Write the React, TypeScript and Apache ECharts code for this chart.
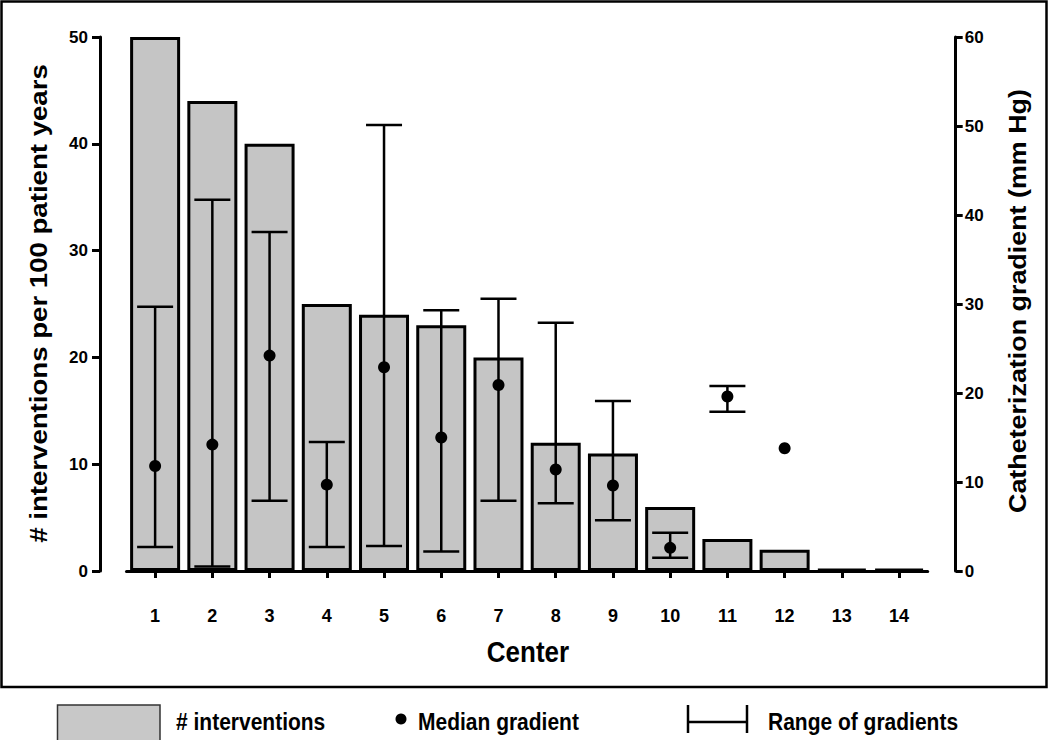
import React, { useEffect, useRef } from "react";
import * as echarts from "echarts";

const centers = ["1", "2", "3", "4", "5", "6", "7", "8", "9", "10", "11", "12", "13", "14"];
const interventions = [50, 44, 40, 25, 24, 23, 20, 12, 11, 6, 3, 2, 0, 0];
const medianGradient = [11.8, 14.2, 24.2, 9.7, 22.9, 15.0, 20.9, 11.4, 9.6, 2.6, 19.6, 13.8, null, null];
const gradientLow = [2.7, 0.5, 7.9, 2.7, 2.8, 2.2, 7.9, 7.6, 5.7, 1.5, 17.9, null, null, null];
const gradientHigh = [29.7, 41.7, 38.1, 14.5, 50.1, 29.3, 30.6, 27.9, 19.1, 4.3, 20.8, null, null, null];

const leftTitle = "# interventions per 100 patient years";
const rightTitle = "Catheterization gradient (mm Hg)";
const xTitle = "Center";
const legendLabels = ["# interventions", "Median gradient", "Range of gradients"];

const FONT = "'Liberation Sans', Arial, Helvetica, sans-serif";

export default function App() {
  const ref = useRef<HTMLDivElement>(null);

  useEffect(() => {
    if (!ref.current) return;
    const chart = echarts.init(ref.current, undefined, { renderer: "svg" });

    const rangeData: any[] = [];
    gradientLow.forEach((lo, i) => {
      const hi = gradientHigh[i];
      if (lo != null && hi != null) rangeData.push([i, lo, hi]);
    });

    const txt = (text: string, x: number, y: number, size: number, extra: any = {}) => ({
      type: "text",
      x,
      y,
      ...extra,
      style: {
        text,
        fill: "#000",
        font: `bold ${size}px ${FONT}`,
        fontSize: size,
        fontWeight: "bold",
        fontFamily: FONT,
        align: extra.align || "center",
        textAlign: extra.align || "center",
        verticalAlign: "middle",
        textVerticalAlign: "middle",
      },
    });

    const lineEl = (x1: number, y1: number, x2: number, y2: number) => ({
      type: "line",
      shape: { x1, y1, x2, y2 },
      style: { stroke: "#000", lineWidth: 2.5 },
    });

    const option: any = {
      animation: false,
      backgroundColor: "#fff",
      textStyle: { fontFamily: FONT },
      grid: { left: 126.5, right: 122.3, top: 37, bottom: 169 },
      xAxis: {
        type: "category",
        data: centers,
        position: "bottom",
        offset: 26,
        boundaryGap: true,
        axisLine: { show: true, lineStyle: { color: "#000", width: 3 } },
        axisTick: { show: true, alignWithLabel: true, length: 7, lineStyle: { color: "#000", width: 3 } },
        axisLabel: { color: "#000", fontWeight: "bold", fontSize: 18, margin: 10, fontFamily: FONT },
        splitLine: { show: false },
      },
      yAxis: [
        {
          type: "value",
          position: "left",
          min: 0,
          max: 50,
          interval: 10,
          offset: 26.5,
          axisLine: { show: true, lineStyle: { color: "#000", width: 3 } },
          axisTick: { show: true, length: 8, lineStyle: { color: "#000", width: 3 } },
          axisLabel: { color: "#000", fontWeight: "bold", fontSize: 17, margin: 12, fontFamily: FONT },
          splitLine: { show: false },
        },
        {
          type: "value",
          position: "right",
          min: 0,
          max: 60,
          interval: 10,
          offset: 28,
          axisLine: { show: true, lineStyle: { color: "#000", width: 3 } },
          axisTick: { show: true, length: 7, lineStyle: { color: "#000", width: 3 } },
          axisLabel: { color: "#000", fontWeight: "bold", fontSize: 17, margin: 9, fontFamily: FONT },
          splitLine: { show: false },
        },
      ],
      series: [
        {
          name: "# interventions",
          type: "bar",
          yAxisIndex: 0,
          data: interventions,
          barWidth: 50,
          barMinHeight: 2,
          clip: false,
          z: 2,
          itemStyle: { color: "#c5c5c5", borderColor: "#000", borderWidth: 3 },
        },
        {
          name: "Range of gradients",
          type: "custom",
          yAxisIndex: 1,
          z: 3,
          clip: false,
          encode: { x: 0, y: [1, 2] },
          data: rangeData,
          renderItem: (params: any, api: any) => {
            const x = api.value(0);
            const lo = api.coord([x, api.value(1)]);
            const hi = api.coord([x, api.value(2)]);
            const hw = 18;
            const style = { stroke: "#000", lineWidth: 2.5, fill: "none" };
            return {
              type: "group",
              children: [
                { type: "line", shape: { x1: hi[0], y1: hi[1], x2: lo[0], y2: lo[1] }, style },
                { type: "line", shape: { x1: hi[0] - hw, y1: hi[1], x2: hi[0] + hw, y2: hi[1] }, style },
                { type: "line", shape: { x1: lo[0] - hw, y1: lo[1], x2: lo[0] + hw, y2: lo[1] }, style },
              ],
            };
          },
        },
        {
          name: "Median gradient",
          type: "scatter",
          yAxisIndex: 1,
          z: 4,
          data: medianGradient,
          symbol: "circle",
          symbolSize: 12,
          itemStyle: { color: "#000", opacity: 1 },
        },
      ],
      graphic: [
        {
          type: "rect",
          shape: { x: 1.5, y: 1.5, width: 1045, height: 685.5 },
          style: { fill: "none", stroke: "#000", lineWidth: 2.5 },
          z: 100,
        },
        txt(leftTitle, 39, 303.5, 24, { rotation: Math.PI / 2, scaleX: 1.15 }),
        txt(rightTitle, 1018, 301, 24, { rotation: Math.PI / 2, scaleX: 1.12 }),
        txt(xTitle, 528, 652, 26, { scaleY: 1.15 }),
        {
          type: "rect",
          shape: { x: 57.5, y: 705, width: 102.5, height: 36 },
          style: { fill: "#c8c8c8", stroke: "#333", lineWidth: 1.5 },
        },
        txt(legendLabels[0], 176, 722, 21, { align: "left", scaleY: 1.12 }),
        {
          type: "circle",
          shape: { cx: 401, cy: 719, r: 5.5 },
          style: { fill: "#000" },
        },
        txt(legendLabels[1], 418, 722, 21, { align: "left", scaleY: 1.12 }),
        lineEl(688, 705, 688, 733),
        lineEl(688, 722, 747, 722),
        lineEl(747, 705, 747, 733),
        txt(legendLabels[2], 768, 722, 21, { align: "left", scaleY: 1.12 }),
      ],
    };

    chart.setOption(option);
    return () => chart.dispose();
  }, []);

  return (
    <div
      ref={ref}
      style={{ position: "fixed", left: 0, top: 0, width: 1050, height: 740, background: "#fff" }}
    />
  );
}
